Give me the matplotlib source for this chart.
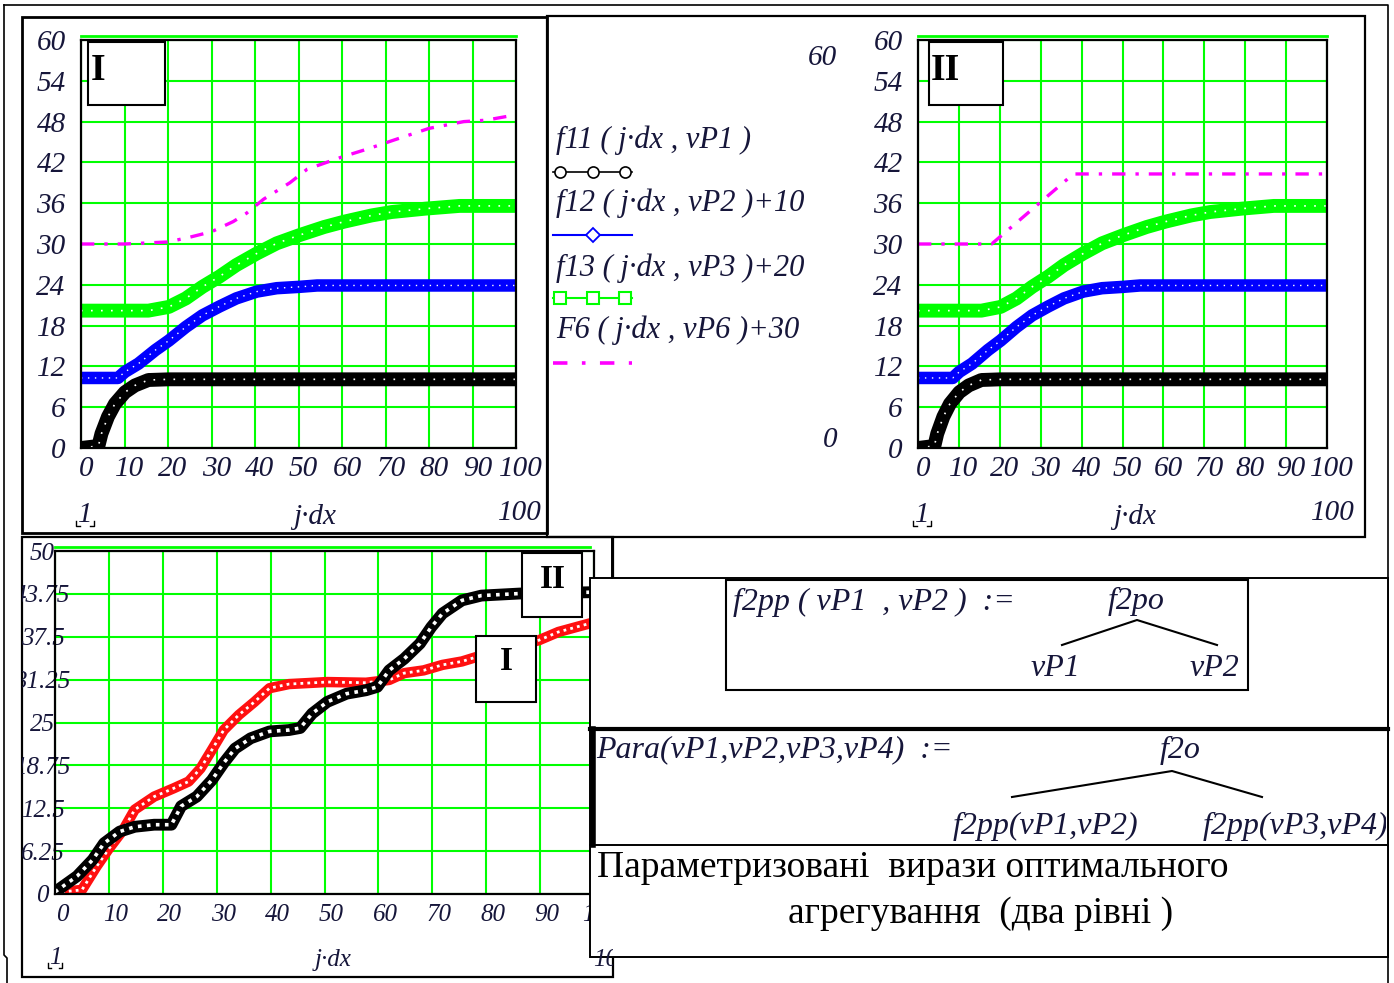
import matplotlib.pyplot as plt
from matplotlib.patches import Rectangle
from matplotlib.transforms import Bbox, ScaledTranslation

# %% ==========================================================================
# Data
# =============================================================================
# first-level responses, identical in panels I and II
x_f11 = [0, 4, 4.7, 6.2, 7.8, 10.1, 12.4, 15.5, 20.2, 100]
f11 = [0, 0.3, 2.1, 4.6, 6.5, 8.2, 9.2, 10.0, 10.1, 10.1]

x_f12 = [0, 8.5, 10.1, 13.2, 17.1, 20.2, 24.1, 27.9, 31.8, 35.7, 40.4, 45, 50.2, 54.3, 100]
f12 = [10.3, 10.3, 11.2, 12.4, 14.4, 15.8, 17.8, 19.5, 20.8, 22.0, 23.0, 23.5, 23.7, 23.9, 23.9]

x_f13 = [0, 15.5, 20.2, 24.1, 27.9, 31.8, 35.7, 40.4, 45, 50.2, 55.9, 60.6, 66.8, 71.4, 79.2, 87, 100]
f13 = [20.2, 20.2, 20.75, 22.0, 23.7, 25.2, 26.9, 28.6, 30.1, 31.3, 32.5, 33.3, 34.2, 34.7, 35.2, 35.6, 35.6]

# F6 + 30, version I and version II
x_f6_1 = [0, 10, 20, 25, 30, 35, 38, 42, 48, 52, 60, 66, 72, 80, 88, 93, 100]
f6_1 = [30, 30, 30.3, 31, 31.8, 33.3, 34.5, 36.6, 39, 41, 42.8, 44, 45.3, 47, 48, 48.2, 49]
x_f6_2 = [0, 18, 38, 100]
f6_2 = [30, 30, 40.3, 40.3]

# two-level aggregated result: I (red) and II (black)
x_agg1 = [0, 5, 7.7, 9.9, 12.7, 14.8, 18.4, 22, 24.8, 27, 29.1, 31.3, 34.1, 37, 39.8,
          43.4, 50.5, 57.7, 62, 64.8, 68.4, 71.9, 75.5, 78.4, 89.8, 93.4, 99, 100]
agg1 = [0.2, 0.6, 4, 6.5, 9.4, 12.3, 14.2, 15.4, 16.4, 18.3, 21, 23.9, 26.1, 28, 30,
        30.6, 30.9, 30.8, 31.2, 32.2, 32.6, 33.4, 33.9, 34.6, 37, 38.2, 39.4, 39.6]
x_agg2 = [0, 4.1, 7, 9.1, 12, 14.8, 18.4, 21.6, 23.4, 26.3, 29.1, 31.3, 33.4, 36.3, 39.8,
          43.4, 45.5, 47.7, 50.5, 54.1, 57.7, 59.8, 62, 64.8, 67.7, 69.8, 71.9, 75.5,
          79.1, 86.2, 100]
agg2 = [0.3, 2.6, 5, 7.4, 9.1, 9.8, 10.1, 10.1, 12.8, 14.2, 16.6, 19.1, 21.2, 22.7, 23.7,
        23.9, 24.2, 26.3, 28, 29.2, 29.7, 30.2, 32.6, 34.3, 36.5, 38.9, 40.9, 42.8,
        43.5, 43.8, 44]

top_xticks = list(range(0, 101, 10))
top_yticks = list(range(0, 61, 6))
bot_xticks = list(range(0, 101, 10))
bot_yticks = [0, 6.25, 12.5, 18.75, 25, 31.25, 37.5, 43.75, 50]
bot_ylabels = ['0', '6.25', '12.5', '18.75', '25', '31.25', '37.5', '43.75', '50']

legend_labels = ['f11 ( j·dx , vP1 )', 'f12 ( j·dx , vP2 )+10',
                 'f13 ( j·dx , vP3 )+20', 'F6 ( j·dx , vP6 )+30']

# %% ==========================================================================
# Styles
# =============================================================================
W, H = 1394, 983
SERIF = 'Liberation Serif'
INK = '#16163a'
GRID = '#00ff00'
MATH = dict(family=SERIF, style='italic', color=INK)

fig = plt.figure(figsize=(W / 100, H / 100), dpi=100)


def px_axes(x0, y0, x1, y1, **kw):
    # axes placed by pixel box (y measured from the top)
    return fig.add_axes([x0 / W, 1 - y1 / H, (x1 - x0) / W, (y1 - y0) / H], **kw)


def canvas(z):
    a = px_axes(0, 0, W, H, zorder=z)
    a.set_xlim(0, W)
    a.set_ylim(H, 0)
    a.axis('off')
    a.patch.set_alpha(0)
    return a


def box(a, x0, y0, x1, y1, lw=1.5, fill=False, **kw):
    a.add_patch(Rectangle((x0, y0), x1 - x0, y1 - y0, fill=fill, facecolor='white',
                          edgecolor='black', lw=lw, **kw))


def band(ax, x, y, color, lw, dots):
    ax.plot(x, y, color=color, lw=lw, solid_capstyle='butt', solid_joinstyle='round')
    ax.plot(x, y, color='white', lw=dots[0], ls=(0, dots[1]))


def style_plot(ax, xt, yt, xlim, ylim, size, ypad, xpad, xshift):
    ax.set_xlim(*xlim)
    ax.set_ylim(*ylim)
    ax.set_xticks(xt)
    ax.set_yticks(yt)
    ax.grid(True, color=GRID, lw=1.5)
    ax.set_axisbelow(True)
    for s in ax.spines.values():
        s.set_linewidth(1.6)
    ax.tick_params(length=0, labelsize=size, pad=xpad, axis='x')
    ax.tick_params(length=0, labelsize=size, pad=ypad, axis='y')
    shift = ScaledTranslation(xshift / 100, 0, fig.dpi_scale_trans)
    for lbl in ax.get_xticklabels() + ax.get_yticklabels():
        lbl.set_fontfamily(SERIF)
        lbl.set_fontstyle('italic')
        lbl.set_color(INK)
    for lbl in ax.get_xticklabels():
        lbl.set_transform(lbl.get_transform() + shift)


bg = canvas(0)

# worksheet region frames
bg.plot([4, 1388, 1388], [5, 5, 983], color='black', lw=1.2)
bg.plot([4, 4, 7, 7], [5, 955, 958, 983], color='black', lw=1.2)
box(bg, 22, 17, 547, 533, lw=2)
box(bg, 547, 16, 1365, 537, lw=1.6)
box(bg, 22, 537, 613, 977, lw=1.6)

# %% ==========================================================================
# Panels I and II
# =============================================================================
axI = px_axes(81, 40, 516, 448, zorder=1)
axII = px_axes(918, 40, 1327, 448, zorder=1)

for ax, xm, ym in [(axI, x_f6_1, f6_1), (axII, x_f6_2, f6_2)]:
    band(ax, x_f11, f11, 'black', 10, (1.2, (1, 5)))
    band(ax, x_f12, f12, '#0000ff', 9, (1.0, (1, 4)))
    band(ax, x_f13, f13, GRID, 10, (1.2, (1, 5)))
    ax.plot(xm, ym, color='#ff00ff', lw=2.4, ls=(0, (4, 3, 1, 3)))
    ax.set_xticks(top_xticks)
    ax.set_xticklabels([str(v) for v in top_xticks])
    ax.set_yticks(top_yticks)
    ax.set_yticklabels([str(v) for v in top_yticks])
    style_plot(ax, top_xticks, top_yticks, (0, 100), (0, 60), 21, 11, 6, 5)

# %% ==========================================================================
# Aggregated result (bottom panel)
# =============================================================================
axB = px_axes(55, 551, 594, 894, zorder=1)
band(axB, x_agg1, agg1, '#ff1010', 7.5, (2.0, (1, 1.5)))
band(axB, x_agg2, agg2, 'black', 8.5, (2.6, (1, 1.5)))
axB.set_xticks(bot_xticks)
axB.set_xticklabels([str(v) for v in bot_xticks])
axB.set_yticks(bot_yticks)
axB.set_yticklabels(bot_ylabels)
style_plot(axB, bot_xticks, bot_yticks, (0, 100), (0, 50), 18, 9, 7, 7)
clip = Bbox([[22, 0], [613, H]])
for lbl in axB.get_yticklabels():
    lbl.set_horizontalalignment('center')
    lbl.set_clip_box(clip)
    lbl.set_clip_on(True)

# %% ==========================================================================
# Overlay: label boxes, legend, formulas, captions
# =============================================================================
ov = canvas(5)

# gridline ghosts above the plot frames
for x0, x1, y in [(81, 516, 36), (918, 1327, 36), (55, 590, 547)]:
    ov.plot([x0, x1], [y, y], color=GRID, lw=2)

box(ov, 88, 42, 165, 105, fill=True)
ov.text(91, 70, 'I', family=SERIF, weight='bold', size=27, va='center', ha='left')
box(ov, 929, 42, 1003, 105, fill=True)
ov.text(931, 70, 'II', family=SERIF, weight='bold', size=27, va='center', ha='left')

box(ov, 522, 553, 582, 617, fill=True)
ov.text(553, 580, 'II', family=SERIF, weight='bold', size=24, va='center', ha='center')
box(ov, 476, 636, 536, 702, fill=True)
ov.text(506, 662, 'I', family=SERIF, weight='bold', size=24, va='center', ha='center')

# legend between the two panels
leg_y = [140, 203, 268, 330]
for lbl, y in zip(legend_labels, leg_y):
    ov.text(556, y, lbl, size=22, va='center', ha='left', **MATH)
ov.plot([553, 632], [172, 172], color='black', lw=1.2)
ov.plot([560, 593, 625], [172, 172, 172], ls='none', marker='o', ms=8,
        mfc='white', mec='black', mew=1.2)
ov.plot([553, 632], [235, 235], color='#0000ff', lw=1.5)
ov.plot([593], [235], ls='none', marker='D', ms=7, mfc='white', mec='#0000ff', mew=1.3)
ov.plot([553, 632], [298, 298], color=GRID, lw=1.5)
ov.plot([560, 593, 625], [298, 298, 298], ls='none', marker='s', ms=9, mfc='white',
        mec=GRID, mew=1.5)
ov.plot([553, 632], [363, 363], color='#ff00ff', lw=2.6, ls=(0, (4, 4, 1, 4)))
ov.text(822, 58, '60', size=21, va='center', ha='center', **MATH)
ov.text(830, 440, '0', size=21, va='center', ha='center', **MATH)

# axis range labels below each plot
for x1, xm, x2, y in [(85, 315, 520, 515), (922, 1135, 1333, 515)]:
    ov.text(x1, y, '1', size=21, va='center', ha='center', **MATH)
    ov.text(xm, y + 2, 'j·dx', size=21, va='center', ha='center', **MATH)
    ov.text(x2, y - 2, '100', size=21, va='center', ha='center', **MATH)
    ov.plot([x1 - 9, x1 - 9, x1 - 5], [y + 6, y + 11, y + 11], color='black', lw=1)
    ov.plot([x1 + 5, x1 + 9, x1 + 9], [y + 11, y + 11, y + 6], color='black', lw=1)
ov.text(55, 958, '1', size=18, va='center', ha='center', **MATH)
ov.plot([48, 48, 51], [963, 968, 968], color='black', lw=1)
ov.plot([59, 62, 62], [968, 968, 963], color='black', lw=1)
ov.text(333, 960, 'j·dx', size=18, va='center', ha='center', **MATH)
t = ov.text(612, 960, '100', size=18, va='center', ha='center', **MATH)
t.set_clip_box(Bbox([[590, 0], [613, H]]))
t.set_clip_on(True)

# formula regions on the right
box(ov, 590, 578, 1388, 957, fill=True, lw=1.4)
ov.plot([612, 612], [537, 578], color='black', lw=1.4)
ov.plot([590, 1388], [729, 729], color='black', lw=3)
ov.plot([593, 593], [729, 845], color='black', lw=4)
ov.plot([590, 1388], [845, 845], color='black', lw=1.4)
box(ov, 726, 580, 1248, 690, lw=1.5)

ov.text(733, 602, 'f2pp ( vP1  , vP2 )  :=', size=23, va='center', ha='left', **MATH)
ov.text(1136, 601, 'f2po', size=23, va='center', ha='center', **MATH)
ov.plot([1062, 1137, 1217], [645, 620, 645], color='black', lw=1.5)
ov.text(1055, 668, 'vP1', size=23, va='center', ha='center', **MATH)
ov.text(1214, 668, 'vP2', size=23, va='center', ha='center', **MATH)

ov.text(596, 750, 'Para(vP1,vP2,vP3,vP4)  :=', size=23, va='center', ha='left', **MATH)
ov.text(1180, 750, 'f2o', size=23, va='center', ha='center', **MATH)
ov.plot([1012, 1172, 1262], [797, 771, 797], color='black', lw=1.5)
ov.text(953, 826, 'f2pp(vP1,vP2)', size=23, va='center', ha='left', **MATH)
t = ov.text(1203, 826, 'f2pp(vP3,vP4)', size=23, va='center', ha='left', **MATH)
t.set_clip_box(Bbox([[0, 0], [1386, H]]))
t.set_clip_on(True)

ov.text(597, 868, 'Параметризовані  вирази оптимального', family=SERIF, size=27,
        va='center', ha='left', color='black')
ov.text(788, 914, 'агрегування  (два рівні )', family=SERIF, size=27,
        va='center', ha='left', color='black')

fig.savefig('out.png', dpi=100)
